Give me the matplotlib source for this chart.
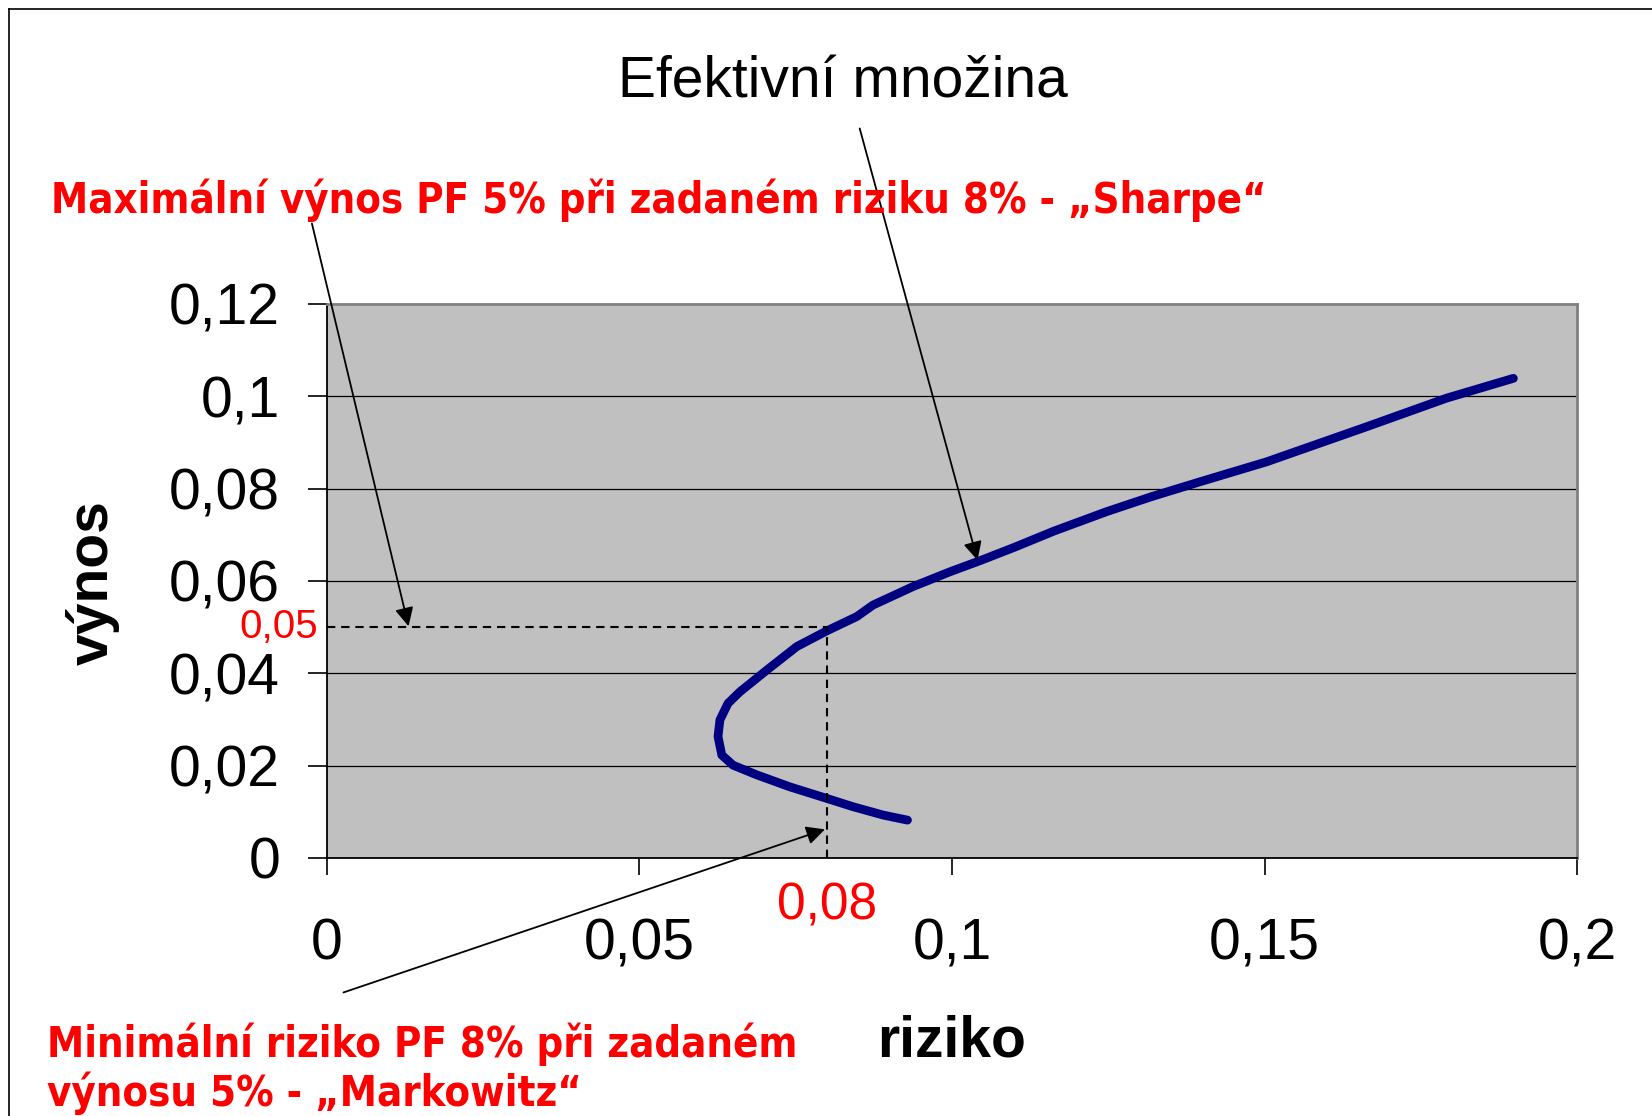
import matplotlib
matplotlib.use("Agg")
import matplotlib.pyplot as plt
from matplotlib.lines import Line2D

# efektivni mnozina (riziko, vynos)
riziko = [0.0929, 0.0890, 0.0842, 0.0800, 0.0741, 0.0688, 0.0650, 0.0632, 0.0626, 0.0629,
          0.0642, 0.0661, 0.0704, 0.0752, 0.0800, 0.0848, 0.0874, 0.0938, 0.0997, 0.1045,
          0.1100, 0.1163, 0.1247, 0.1320, 0.1397, 0.1503, 0.1663, 0.1791, 0.1898]
vynos = [0.0082, 0.0093, 0.0111, 0.0129, 0.0154, 0.0180, 0.0201, 0.0223, 0.0263, 0.0299,
         0.0335, 0.0360, 0.0407, 0.0458, 0.0492, 0.0523, 0.0548, 0.0588, 0.0620, 0.0644,
         0.0673, 0.0708, 0.0750, 0.0783, 0.0815, 0.0858, 0.0934, 0.0996, 0.1039]

x_ticks = [0, 0.05, 0.1, 0.15, 0.2]
x_labels = ["0", "0,05", "0,1", "0,15", "0,2"]
y_ticks = [0, 0.02, 0.04, 0.06, 0.08, 0.1, 0.12]
y_labels = ["0", "0,02", "0,04", "0,06", "0,08", "0,1", "0,12"]

zadane_riziko = 0.08
zadany_vynos = 0.05

RED = "#FF0000"
red_font = dict(family="DejaVu Sans", fontweight="bold", fontstretch="condensed",
                color=RED, fontsize=30)
label_font = dict(family="Liberation Sans", fontweight="bold", fontsize=41)

fig = plt.figure(figsize=(16.52, 11.16), dpi=100)
ax = fig.add_axes([0.1977, 0.2312, 0.757, 0.4964])
ax.set_facecolor("#C0C0C0")

ax.set_xlim(0, 0.2)
ax.set_ylim(0, 0.12)

for yv in y_ticks[1:-1]:
    ax.axhline(yv, color="black", lw=0.9, zorder=1)

ax.plot(riziko, vynos, color="#000080", lw=6.3, solid_capstyle="round",
        solid_joinstyle="round", zorder=3)

# pomocne carkovane cary
ax.plot([0, zadane_riziko], [zadany_vynos, zadany_vynos], color="black", lw=1.5,
        dashes=(4, 2.8), zorder=4)
ax.plot([zadane_riziko, zadane_riziko], [0, zadany_vynos], color="black", lw=1.5,
        dashes=(4, 2.8), zorder=4)

ax.text(-0.0013, zadany_vynos, "0,05", color=RED, fontsize=29, family="Liberation Sans",
        ha="right", va="center", clip_on=False)
ax.text(zadane_riziko, -0.0104, "0,08", color=RED, fontsize=37, family="Liberation Sans",
        ha="center", va="center", clip_on=False)

ax.set_xticks(x_ticks)
ax.set_xticklabels(x_labels)
ax.set_yticks(y_ticks)
ax.set_yticklabels(y_labels)
for lab in ax.get_xticklabels() + ax.get_yticklabels():
    lab.set_family("Liberation Sans")
    lab.set_fontsize(41)
ax.tick_params(axis="x", length=12, width=1.2, pad=31, direction="out")
ax.tick_params(axis="y", length=13.5, width=1.2, pad=20, direction="out")

for s in ["top", "right"]:
    ax.spines[s].set_color("#808080")
    ax.spines[s].set_linewidth(2)
for s in ["left", "bottom"]:
    ax.spines[s].set_color("black")
    ax.spines[s].set_linewidth(1.3)

# popisky
fig.text(0.0561, 0.478, "výnos", rotation=90, ha="center", va="center", **label_font)
fig.text(0.5759, 0.0531, "riziko", ha="center", va="baseline", **label_font)

fig.text(0.5102, 0.9265, "Efektivní množina", fontsize=41, family="Liberation Sans",
         ha="center", va="center")
fig.text(0.0306, 0.8093, "Maximální výnos PF 5% při zadaném riziku 8% - „Sharpe“",
         ha="left", va="baseline", **red_font)
fig.text(0.0287, 0.0531, "Minimální riziko PF 8% při zadaném",
         ha="left", va="baseline", **red_font)
fig.text(0.0287, 0.0089, "výnosu 5% - „Markowitz“",
         ha="left", va="baseline", **red_font)

arrow = dict(arrowstyle="-|>", color="black", lw=1.3, mutation_scale=28,
             shrinkA=0, shrinkB=0)
ax.annotate("", xy=(0.0131, 0.0502), xycoords="data",
            xytext=(0.1888, 0.7998), textcoords="figure fraction", arrowprops=arrow, zorder=5)
ax.annotate("", xy=(0.1041, 0.0645), xycoords="data",
            xytext=(0.5204, 0.8849), textcoords="figure fraction", arrowprops=arrow, zorder=5)
ax.annotate("", xy=(0.0797, 0.0062), xycoords="data",
            xytext=(0.2079, 0.1107), textcoords="figure fraction", arrowprops=arrow, zorder=5)

# ramecek obrazku
fig.add_artist(Line2D([0.0054, 0.0054], [0, 0.9915], color="black", lw=1.2,
                      transform=fig.transFigure))
fig.add_artist(Line2D([0.0054, 1], [0.9915, 0.9915], color="black", lw=1.2,
                      transform=fig.transFigure))

fig.savefig("out.png", dpi=100)
